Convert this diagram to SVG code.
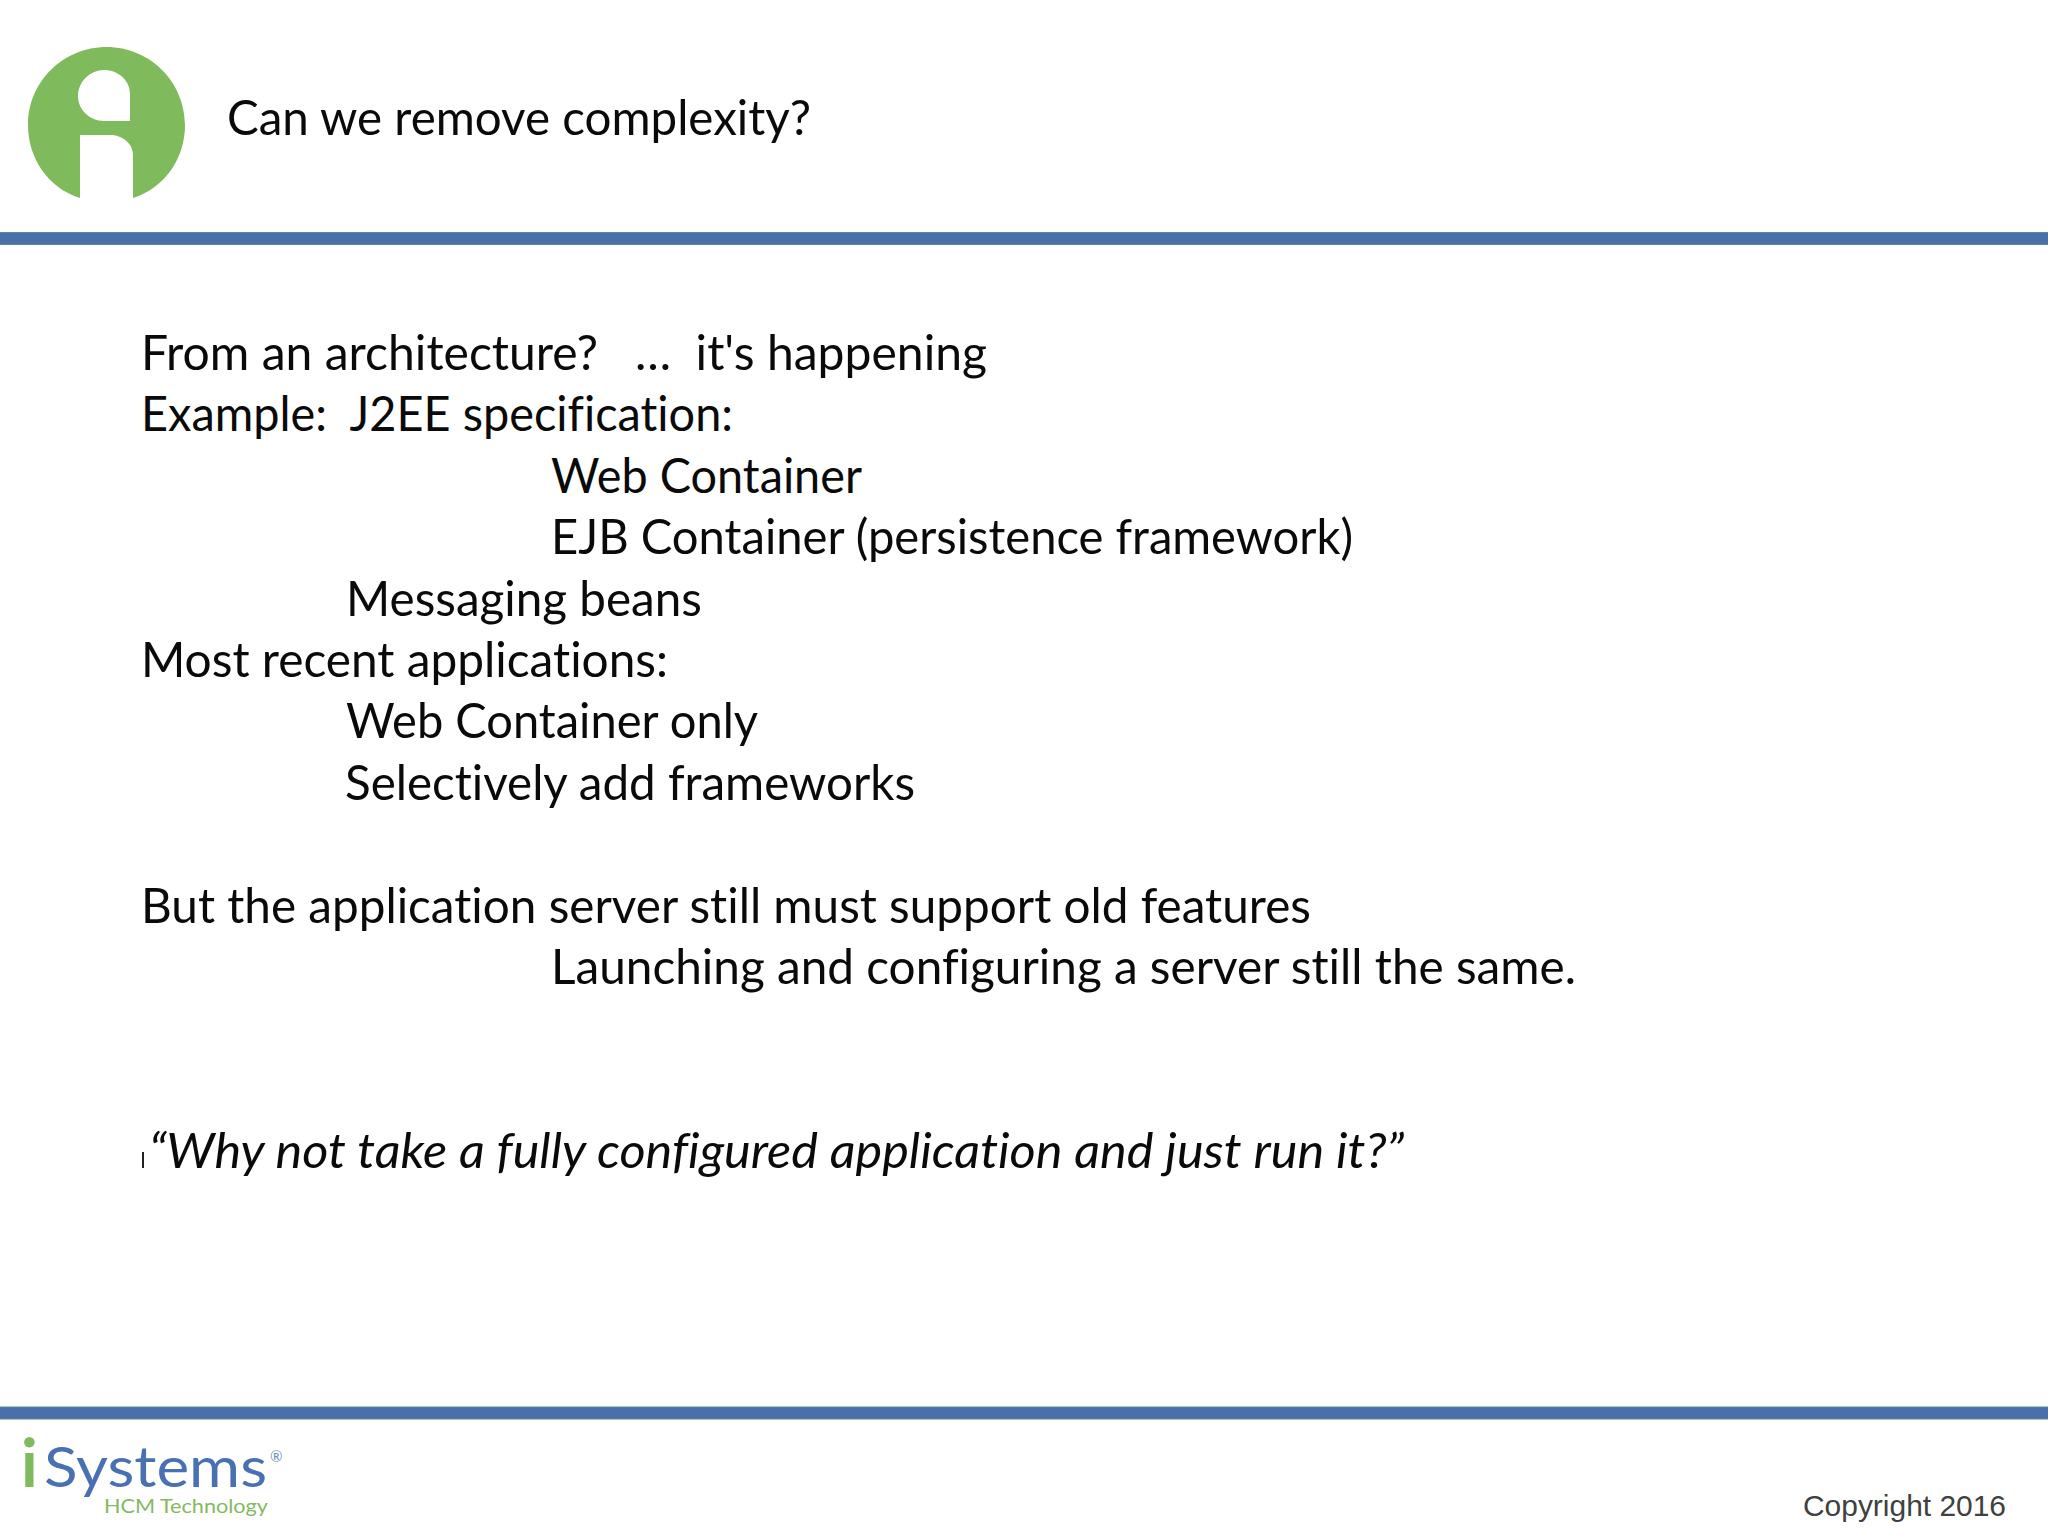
<svg xmlns="http://www.w3.org/2000/svg" width="2048" height="1536" viewBox="0 0 2048 1536">
<style>
.b{font-family:"Lato","Open Sans",sans-serif;font-size:49px;fill:#0a0a0a;font-variant-ligatures:none}
.bar{fill:#4a70aa;stroke:#5f8791;stroke-width:1}
.logo{font-family:"Lato",sans-serif}
</style>
<rect width="2048" height="1536" fill="#ffffff"/>
<g id="header">
<path id="logo-mark" fill-rule="evenodd" fill="#7fba5c" d="M80 198C48 188 28 158 28 125C28 82 63 47 106.500 47C150 47 185 82 185 125C185 158 165 188 133 198L133 155C133 143 122 135 110 135L80 135ZM130 121L130 94C130 80 118 70 104 70C90 70 78 82 78 96C78 110 90 121 104 121Z"/>
<text class="b" x="227" y="134.500" textLength="584" lengthAdjust="spacingAndGlyphs">Can we remove complexity?</text>
<rect class="bar" x="-2" y="232.500" width="2052" height="12"/>
</g>
<g id="body">
<text class="b" x="141" y="370" textLength="846" lengthAdjust="spacingAndGlyphs" xml:space="preserve">From an architecture?   …  it's happening</text>
<text class="b" x="141" y="431" textLength="592" lengthAdjust="spacingAndGlyphs" xml:space="preserve">Example:  J2EE specification:</text>
<text class="b" x="551" y="492.500" textLength="311" lengthAdjust="spacingAndGlyphs">Web Container</text>
<text class="b" x="551" y="554" textLength="802" lengthAdjust="spacingAndGlyphs">EJB Container (persistence framework)</text>
<text class="b" x="346" y="615.500" textLength="356" lengthAdjust="spacingAndGlyphs">Messaging beans</text>
<text class="b" x="141" y="677" textLength="527" lengthAdjust="spacingAndGlyphs">Most recent applications:</text>
<text class="b" x="346" y="738" textLength="412" lengthAdjust="spacingAndGlyphs">Web Container only</text>
<text class="b" x="345" y="800" textLength="570" lengthAdjust="spacingAndGlyphs">Selectively add frameworks</text>
<text class="b" x="141" y="923" textLength="1170" lengthAdjust="spacingAndGlyphs">But the application server still must support old features</text>
<text class="b" x="551" y="984" textLength="1025" lengthAdjust="spacingAndGlyphs">Launching and configuring a server still the same.</text>
<rect x="142" y="1152" width="2" height="16" fill="#222"/>
<text class="b" x="149" y="1168" font-style="italic" textLength="1255" lengthAdjust="spacingAndGlyphs">“Why not take a fully configured application and just run it?”</text>
</g>
<g id="footer">
<rect class="bar" x="-2" y="1407" width="2052" height="12"/>
<g id="isystems-logo">
<text class="logo" x="21" y="1487" font-size="66" font-weight="700" fill="#7fba5c">i</text>
<text class="logo" x="44" y="1487" font-size="56" fill="#4a70b4" textLength="223" lengthAdjust="spacingAndGlyphs">Systems</text>
<text class="logo" x="270" y="1462" font-size="15" fill="#6f8fc0">®</text>
<text class="logo" x="104" y="1513" font-size="19" fill="#84b95f" textLength="164" lengthAdjust="spacingAndGlyphs">HCM Technology</text>
</g>
<text x="1803" y="1516" font-family="Liberation Sans, Arial, sans-serif" font-size="29.500" fill="#404040" textLength="203" lengthAdjust="spacingAndGlyphs">Copyright 2016</text>
</g>
</svg>
